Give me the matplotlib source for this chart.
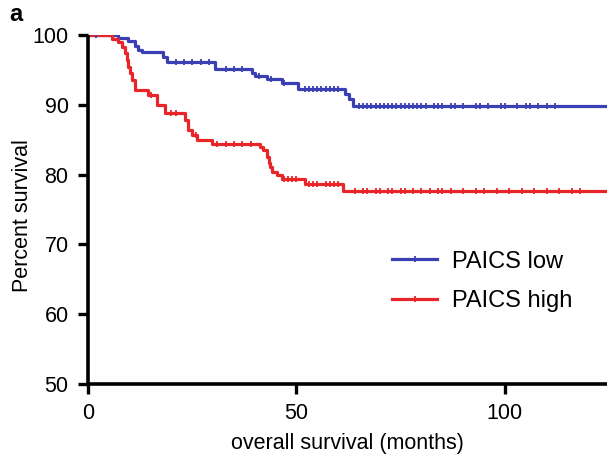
import numpy as np
import matplotlib
matplotlib.use("Agg")
from matplotlib import pyplot as plt
from matplotlib.lines import Line2D

# step curves (months, percent survival)
low_t = [0, 7.2, 9.6, 11.3, 12.0, 12.9, 18.0, 19.0, 30.5, 39.3, 40.0, 43.0, 46.5, 50.4, 61.6, 62.5, 63.5, 124.5]
low_s = [100, 99.6, 99.1, 98.4, 97.9, 97.5, 96.9, 96.2, 95.1, 94.6, 94.2, 93.7, 93.1, 92.3, 91.6, 90.8, 89.9, 89.9]

high_t = [0, 5.8, 7.2, 8.2, 8.9, 9.3, 9.6, 10.1, 10.6, 11.3, 14.4, 16.5, 18.5, 23.3, 24.0, 25.0, 26.1, 29.7,
          41.2, 42.0, 42.9, 43.3, 43.6, 44.1, 45.3, 46.5, 52.0, 61.2, 124.5]
high_s = [100, 99.5, 99.0, 98.3, 97.4, 96.4, 95.4, 94.5, 93.6, 92.1, 91.4, 90.0, 88.8, 87.8, 86.4, 85.7, 85.0, 84.4,
          84.0, 83.5, 82.5, 81.6, 81.1, 80.4, 80.0, 79.4, 78.7, 77.6, 77.6]

# censor ticks
low_cens = [2, 21, 23, 25, 27, 29, 33, 35, 37, 41, 44, 47, 52, 53, 54, 55, 56, 57, 58, 59, 60,
            65, 66, 67, 68, 69, 70, 71, 72, 73, 74, 75, 76, 77, 78, 79, 80, 81, 83, 84, 85, 87,
            88, 90, 93, 94, 96, 99, 100, 103, 105, 106, 108, 110, 112]
high_cens = [15, 20, 21, 26, 31, 33, 35, 37, 39, 47, 48, 49, 50, 53, 54, 55, 57, 58, 59, 60,
             64, 66, 67, 69, 70, 72, 73, 75, 76, 78, 80, 82, 84, 85, 87, 90, 93, 95, 98, 101, 104,
             107, 110, 113, 116, 118]

blue = "#3a40b3"
red = "#e8262a"
fam = ['Liberation Sans', 'DejaVu Sans']


def at(t, s, c):
    idx = np.searchsorted(t, c, side="right") - 1
    return np.array(s)[idx]


fig = plt.figure(figsize=(6.07, 4.55), dpi=100)
ax = fig.add_axes([0.145, 0.156, 0.855, 0.767])

ax.step(low_t, low_s, where="post", color=blue, lw=2.3)
ax.step(high_t, high_s, where="post", color=red, lw=2.3)
ax.plot(low_cens, at(low_t, low_s, low_cens), ls="none", marker="|", ms=5, mew=1.3, color=blue)
ax.plot(high_cens, at(high_t, high_s, high_cens), ls="none", marker="|", ms=5, mew=1.3, color=red)

ax.set_xlim(0, 124.5)
ax.set_ylim(50, 100)
ax.set_xticks([0, 50, 100])
ax.set_yticks([50, 60, 70, 80, 90, 100])
for side in ["top", "right"]:
    ax.spines[side].set_visible(False)
for side in ["left", "bottom"]:
    ax.spines[side].set_linewidth(2.6)
    ax.spines[side].set_capstyle("butt")
ax.tick_params(width=2.4, length=7, labelsize=15.5, pad=7)
for lab in ax.get_xticklabels() + ax.get_yticklabels():
    lab.set_family(fam)
ax.set_xlabel("overall survival (months)", fontsize=15.5, labelpad=6, family=fam)
ax.set_ylabel("Percent survival", fontsize=15.5, family=fam)
ax.yaxis.set_label_coords(-0.106, 0.484)

handles = [Line2D([], [], color=blue, lw=2.3, marker="|", ms=5, mew=1.3),
           Line2D([], [], color=red, lw=2.3, marker="|", ms=5, mew=1.3)]
ax.legend(handles, ["PAICS low", "PAICS high"], loc="upper left", bbox_to_anchor=(0.545, 0.443),
          frameon=False, handlelength=1.9, labelspacing=0.75, handletextpad=0.65,
          prop={'family': fam, 'size': 17})

fig.text(0.015, 0.968, "a", fontsize=17, fontweight="bold", va="center", family=fam)

fig.savefig("out.png", dpi=100)
